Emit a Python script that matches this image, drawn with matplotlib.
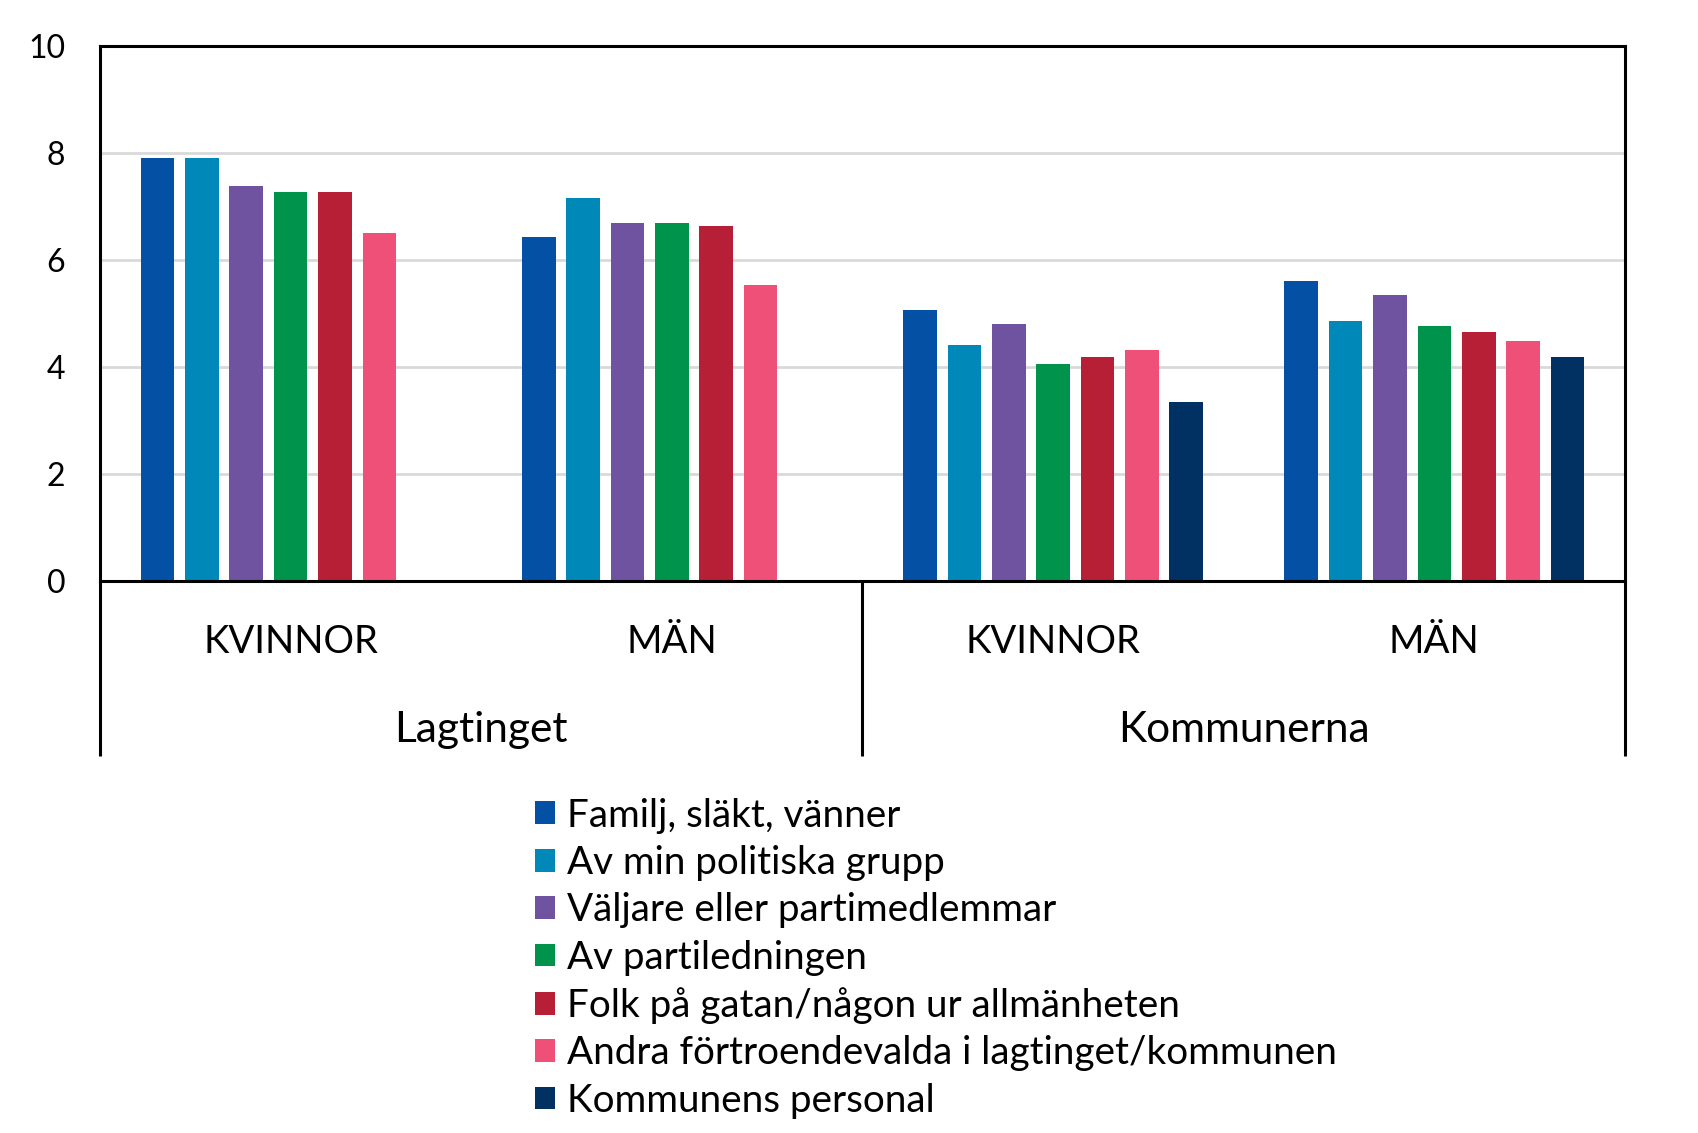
import numpy as np
import matplotlib
matplotlib.use("Agg")
import matplotlib.pyplot as plt
from matplotlib.patches import Patch
import matplotlib.transforms as mtransforms

plt.rcParams['font.family'] = ['Lato', 'DejaVu Sans']

groups = ["Lagtinget", "Kommunerna"]
categories = ["KVINNOR", "MÄN", "KVINNOR", "MÄN"]
series = [
    "Familj, släkt, vänner",
    "Av min politiska grupp",
    "Väljare eller partimedlemmar",
    "Av partiledningen",
    "Folk på gatan/någon ur allmänheten",
    "Andra förtroendevalda i lagtinget/kommunen",
    "Kommunens personal",
]
familj = [7.89, 6.43, 5.06, 5.60]
av_min_grupp = [7.89, 7.16, 4.40, 4.85]
valjare = [7.38, 6.69, 4.80, 5.34]
partiledningen = [7.26, 6.69, 4.06, 4.76]
folk = [7.26, 6.63, 4.19, 4.65]
andra = [6.50, 5.53, 4.31, 4.49]
kommunens_personal = [np.nan, np.nan, 3.35, 4.19]
values = [familj, av_min_grupp, valjare, partiledningen, folk, andra, kommunens_personal]
colors = ["#0450A4", "#0089B8", "#6F52A0", "#00934C", "#B61F36", "#EF5078", "#013063"]

W, H = 1699, 1133
fig = plt.figure(figsize=(W / 100, H / 100), dpi=100)
left, right, top, bottom = 100, 1625, 45.5, 581
ax = fig.add_axes([left / W, 1 - bottom / H, (right - left) / W, (bottom - top) / H])

x = np.arange(len(categories))
step = 0.1164
bw = 0.0881
n = len(series)
for i, (vals, c) in enumerate(zip(values, colors)):
    ax.bar(x + (i - (n - 1) / 2) * step, vals, width=bw, color=c, zorder=3, label=series[i])

ax.set_xlim(-0.5, len(categories) - 0.5)
ax.set_ylim(0, 10)
ax.set_yticks([0, 2, 4, 6, 8, 10])
ax.tick_params(axis='y', length=0, labelsize=23, pad=25)
ax.set_xticks([])
ax.yaxis.grid(True, color="#d9d9d9", linewidth=2, zorder=0)
for s in ax.spines.values():
    s.set_color("black")
    s.set_linewidth(2.2)
ax.spines['bottom'].set_zorder(5)

trans = mtransforms.blended_transform_factory(ax.transData, ax.transAxes)
ylow = -(756.4 - bottom) / (bottom - top)
for xv in [-0.5, 1.5, 3.5]:
    ax.plot([xv, xv], [0, ylow], color="black", lw=2.2, transform=trans, clip_on=False,
            solid_capstyle='butt')

ycat = -(642 - bottom) / (bottom - top)
ygrp = -(730 - bottom) / (bottom - top)
for xi, lab in zip(x, categories):
    ax.text(xi, ycat, lab, transform=trans, ha='center', va='center', fontsize=27.5)
for gi, g in enumerate(groups):
    ax.text(2 * gi + 0.5, ygrp, g, transform=trans, ha='center', va='center', fontsize=30.5)

handles = [Patch(facecolor=c, edgecolor='none') for c in colors]
fig.legend(handles, series, loc='upper left', bbox_to_anchor=(535 / W, 1 - 797.5 / H),
           frameon=False, fontsize=27.8, handlelength=0.53, handleheight=0.53,
           handletextpad=0.3, labelspacing=0.295, borderpad=0, borderaxespad=0)

fig.savefig("out.png", dpi=100)
